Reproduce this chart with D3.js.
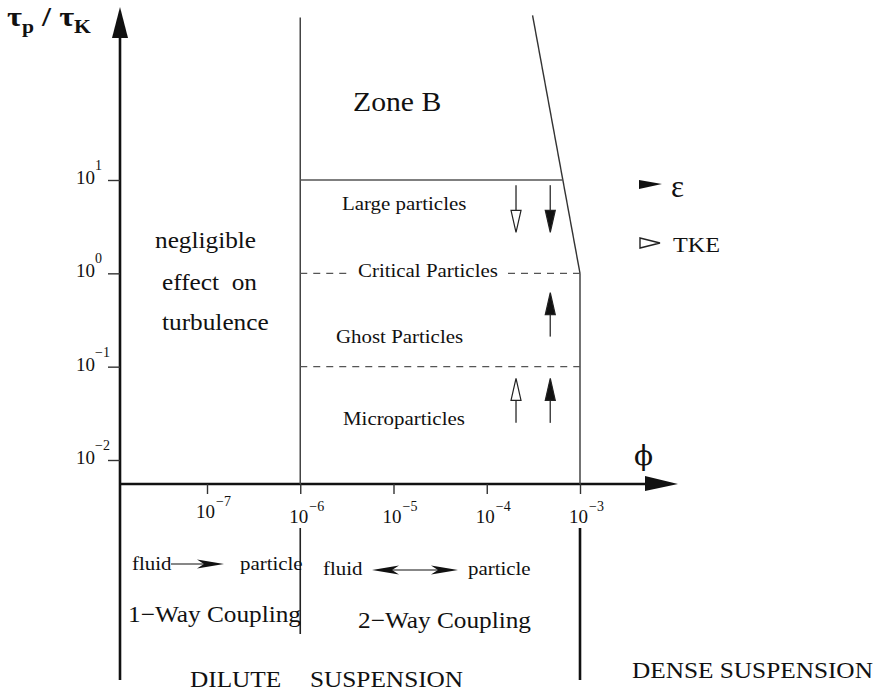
<!DOCTYPE html>
<html>
<head>
<meta charset="utf-8">
<script src="https://cdn.jsdelivr.net/npm/d3@7"></script>
<style>
  body { margin: 0; background: #fff; }
  text { font-family: "Liberation Serif", "Times New Roman", serif; fill: #111; }
</style>
</head>
<body>
<div id="chart"></div>
<script>
//Data
let phiTicks = [1e-7, 1e-6, 1e-5, 1e-4, 1e-3];
let phiExps = ["\u22127", "\u22126", "\u22125", "\u22124", "\u22123"];
let tauTicks = [1e1, 1e0, 1e-1, 1e-2];
let tauExps = ["1", "0", "\u22121", "\u22122"];

//Regime limits
let dilutePhi = 1e-6;
let densePhi = 1e-3;
let tauLarge = 10;
let tauCritical = 1;
let tauMicro = 0.1;
let tauTop = 550;
let slopeTopPhi = 3.1e-4;
let slopeTopTau = 580;

//Modulation arrows (open = TKE, filled = epsilon)
let arrowKind = ["TKE", "eps", "eps", "TKE", "eps"];
let arrowPhi = [2.06e-4, 4.8e-4, 4.8e-4, 2.06e-4, 4.8e-4];
let arrowFrom = [8.8, 8.8, 0.21, 0.025, 0.025];
let arrowTo = [2.75, 2.75, 0.62, 0.075, 0.075];

//Dimensions
let width = 877;
let height = 693;
let axisX = 120;
let axisY = 484;

let svg = d3.select("#chart").append("svg")
	.attr("width", width)
	.attr("height", height);

//Scales
let x = d3.scaleLog().domain([1e-7, 1e-3]).range([207, 580]);
let y = d3.scaleLog().domain([1e-2, 1e1]).range([460, 180]);

//Utility: stretched serif text
let label = function(px, py, str, size, opts){
	opts = opts || {};
	let t = svg.append("text")
		.attr("transform", "translate(" + px + "," + py + ") scale(" + (opts.sx || 1.1) + ",1)")
		.style("font-size", size + "px")
		.style("white-space", "pre")
		.text(str);
	if(opts.weight) t.style("font-weight", opts.weight);
	if(opts.family) t.style("font-family", opts.family);
	return t;
}

let line = function(x1, y1, x2, y2, color, w, dash){
	let l = svg.append("line")
		.attr("x1", x1).attr("y1", y1)
		.attr("x2", x2).attr("y2", y2)
		.attr("stroke", color)
		.attr("stroke-width", w);
	if(dash) l.attr("stroke-dasharray", dash);
	return l;
}

//Axes lines + arrowheads
line(axisX, 36, axisX, 680, "#111", 2.6);
svg.append("polygon")
	.attr("points", [[112, 38], [128, 38], [120, 7]].join(" "))
	.attr("fill", "#111");
line(axisX, axisY, 648, axisY, "#111", 2.6);
svg.append("polygon")
	.attr("points", [[645, 476], [645, 491], [678, 484]].join(" "))
	.attr("fill", "#111");

//X axis ticks
let xAxis = d3.axisBottom(x).tickValues(phiTicks).tickSize(10).tickFormat("");
svg.append("g")
	.attr("transform", "translate(0," + axisY + ")")
	.call(xAxis)
	.call(g => g.select(".domain").remove())
	.selectAll(".tick line")
		.attr("stroke", "#333")
		.attr("stroke-width", 1.4);

//Y axis ticks
let yAxis = d3.axisLeft(y).tickValues(tauTicks).tickSize(12).tickFormat("");
svg.append("g")
	.attr("transform", "translate(" + axisX + ",0)")
	.call(yAxis)
	.call(g => g.select(".domain").remove())
	.selectAll(".tick line")
		.attr("stroke", "#333")
		.attr("stroke-width", 1.4);

//Power-of-ten tick labels
phiTicks.forEach(function(d, i){
	let base = i == 0 ? 518 : 523;
	label(x(d) - 11, base, "10", 19, {sx: 1});
	label(x(d) + 9, base - 12, phiExps[i], 14, {sx: 1});
});
tauTicks.forEach(function(d, i){
	let base = y(d) + 4;
	label(76, base, "10", 19, {sx: 1});
	label(95, base - 14, tauExps[i], 14, {sx: 1});
});

//Axis titles
let tt = label(7, 26, "", 27, {weight: "bold", sx: 1.2});
tt.append("tspan").text("\u03c4");
tt.append("tspan").attr("dy", 7).style("font-size", "18px").text("p");
tt.append("tspan").attr("dy", -7).text(" / \u03c4");
tt.append("tspan").attr("dy", 7).style("font-size", "18px").text("K");
label(634, 465, "\u03d5", 28, {sx: 1, family: "'DejaVu Serif', serif"});

//Regime boundaries
let gray = "#444";
line(x(dilutePhi), y(tauTop), x(dilutePhi), axisY, gray, 1.5);
line(x(dilutePhi), 528, x(dilutePhi), 634, "#222", 1.6);
line(x(densePhi), y(tauCritical), x(densePhi), axisY, gray, 1.5);
line(x(densePhi), 528, x(densePhi), 680, "#111", 2.6);

//Slanted boundary from top down to (densePhi, tauCritical)
let sx0 = x(slopeTopPhi), sy0 = y(slopeTopTau);
let sx1 = x(densePhi), sy1 = y(tauCritical);
line(sx0, sy0, sx1, sy1, "#333", 1.4);
let xAtLarge = sx0 + (y(tauLarge) - sy0) / (sy1 - sy0) * (sx1 - sx0);

//Horizontal regime lines
line(x(dilutePhi), y(tauLarge), xAtLarge, y(tauLarge), "#555", 1.5);
line(x(dilutePhi), y(tauCritical), 351, y(tauCritical), "#555", 1.3, "7,6");
line(508, y(tauCritical), x(densePhi), y(tauCritical), "#555", 1.3, "7,6");
line(x(dilutePhi), y(tauMicro), x(densePhi), y(tauMicro), "#555", 1.3, "7,6");

//Modulation arrows
arrowKind.forEach(function(k, i){
	let ax = x(arrowPhi[i]);
	let y0 = y(arrowFrom[i]);
	let y1 = y(arrowTo[i]);
	let dir = y1 > y0 ? 1 : -1;
	let headLen = 22, half = 5;
	line(ax, y0, ax, y1 - dir * headLen, gray, 1.5);
	svg.append("polygon")
		.attr("points", [[ax - half, y1 - dir * headLen], [ax + half, y1 - dir * headLen], [ax, y1]].join(" "))
		.attr("fill", k == "eps" ? "#111" : "#fff")
		.attr("stroke", "#222")
		.attr("stroke-width", 1.2);
});

//Legend
svg.append("polygon")
	.attr("points", [[639, 180], [662, 184], [639, 189]].join(" "))
	.attr("fill", "#111");
label(671, 197, "\u03b5", 31, {sx: 1});
svg.append("polygon")
	.attr("points", [[640, 238], [660, 243], [640, 248]].join(" "))
	.attr("fill", "#fff")
	.attr("stroke", "#222")
	.attr("stroke-width", 1.4);
label(673, 252, "TKE", 22);

//Zone texts
label(353, 111, "Zone B", 27);
label(342, 210, "Large particles", 19);
label(358, 277, "Critical Particles", 19);
label(336, 343, "Ghost Particles", 19);
label(343, 425, "Microparticles", 19);
label(155, 248, "negligible", 23);
label(162, 290, "effect  on", 23);
label(162, 330, "turbulence", 23);

//Coupling annotations
let barb = function(tipX, tipY, dir){
	svg.append("polygon")
		.attr("points", [[tipX, tipY], [tipX - dir * 27, tipY - 4.5], [tipX - dir * 20, tipY], [tipX - dir * 27, tipY + 4.5]].join(" "))
		.attr("fill", "#111");
}
label(132, 570, "fluid", 19);
line(171, 564, 205, 564, "#111", 1.2);
barb(224, 564, 1);
label(240, 570, "particle", 19);

label(323, 575, "fluid", 19);
line(385, 570, 445, 570, "#111", 1.2);
barb(372, 570, -1);
barb(458, 570, 1);
label(468, 575, "particle", 19);

label(128, 622, "1\u2212Way Coupling", 23);
label(358, 628, "2\u2212Way Coupling", 23);

label(190, 687, "DILUTE", 23);
label(310, 687, "SUSPENSION", 23);
label(632, 678, "DENSE SUSPENSION", 23);
</script>
</body>
</html>
